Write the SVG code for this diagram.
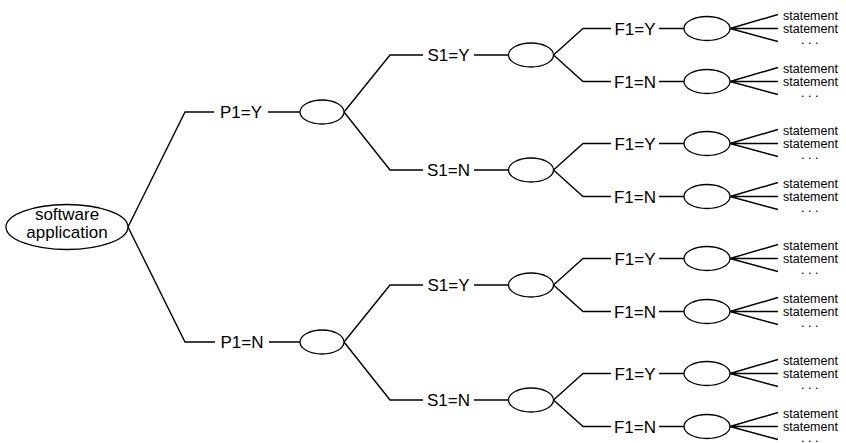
<svg xmlns="http://www.w3.org/2000/svg" width="846" height="443" viewBox="0 0 846 443">
<style>
.n{fill:#fff;stroke:#000;stroke-width:1.3}
.c{fill:none;stroke:#000;stroke-width:1.4}
.l{font-family:"Liberation Sans",Arial,sans-serif;font-size:17px;fill:#000;text-anchor:middle}
.s{font-family:"Liberation Sans",Arial,sans-serif;font-size:12.5px;fill:#000}
.d{font-family:"Liberation Sans",Arial,sans-serif;font-size:9px;font-weight:bold;fill:#000;text-anchor:middle;letter-spacing:4.5px}
</style>
<rect width="846" height="443" fill="#fff"/>
<g id="connectors">
<path class="c" d="M128,227 L185,112 L214,112 M268,112 L300,112 M128,227 L185,342 L215,342 M269,342 L300,342"/>
<path class="c" d="M344,112 L390,55 L423,55 M474,55 L509,55 M344,112 L390,170 L423,170 M474,170 L509,170"/>
<path class="c" d="M344,342 L390,285 L423,285 M474,285 L509,285 M344,342 L390,400 L423,400 M474,400 L509,400"/>
<path class="c" d="M553.5,55 L583,28.5 L611,28.5 M659,28.5 L684,28.5 M553.5,55 L583,81.5 L611,81.5 M659,81.5 L684,81.5"/>
<path class="c" d="M553.5,170 L583,143.5 L611,143.5 M659,143.5 L684,143.5 M553.5,170 L583,196.5 L611,196.5 M659,196.5 L684,196.5"/>
<path class="c" d="M553.5,285 L583,258.5 L611,258.5 M659,258.5 L684,258.5 M553.5,285 L583,311.5 L611,311.5 M659,311.5 L684,311.5"/>
<path class="c" d="M553.5,400 L583,373.5 L611,373.5 M659,373.5 L684,373.5 M553.5,400 L583,426.5 L611,426.5 M659,426.5 L684,426.5"/>
<path class="c" d="M730,28.5 L778,14.5 M730,28.5 L778,28.5 M730,28.5 L778,41.5 M730,81.5 L778,67.5 M730,81.5 L778,81.5 M730,81.5 L778,94.5 M730,143.5 L778,129.5 M730,143.5 L778,143.5 M730,143.5 L778,156.5 M730,196.5 L778,182.5 M730,196.5 L778,196.5 M730,196.5 L778,209.5 M730,258.5 L778,244.5 M730,258.5 L778,258.5 M730,258.5 L778,271.5 M730,311.5 L778,297.5 M730,311.5 L778,311.5 M730,311.5 L778,324.5 M730,373.5 L778,359.5 M730,373.5 L778,373.5 M730,373.5 L778,386.5 M730,426.5 L778,412.5 M730,426.5 L778,426.5 M730,426.5 L778,439.5"/>
<g id="edge-labels">
<text class="l" x="241" y="118">P1=Y</text>
<text class="l" x="242" y="348">P1=N</text>
<text class="l" x="448.5" y="61">S1=Y</text>
<text class="l" x="448.5" y="176">S1=N</text>
<text class="l" x="448.5" y="291">S1=Y</text>
<text class="l" x="448.5" y="406">S1=N</text>
<text class="l" x="635" y="34.5">F1=Y</text>
<text class="l" x="635" y="87.5">F1=N</text>
<text class="l" x="635" y="149.5">F1=Y</text>
<text class="l" x="635" y="202.5">F1=N</text>
<text class="l" x="635" y="264.5">F1=Y</text>
<text class="l" x="635" y="317.5">F1=N</text>
<text class="l" x="635" y="379.5">F1=Y</text>
<text class="l" x="635" y="432.5">F1=N</text>
</g>
<g id="outcomes">
<text class="s" x="783" y="19.5">statement</text><text class="s" x="783" y="33">statement</text><text class="d" x="812" y="43.5">...</text>
<text class="s" x="783" y="72.5">statement</text><text class="s" x="783" y="86">statement</text><text class="d" x="812" y="96.5">...</text>
<text class="s" x="783" y="134.5">statement</text><text class="s" x="783" y="148">statement</text><text class="d" x="812" y="158.5">...</text>
<text class="s" x="783" y="187.5">statement</text><text class="s" x="783" y="201">statement</text><text class="d" x="812" y="211.5">...</text>
<text class="s" x="783" y="249.5">statement</text><text class="s" x="783" y="263">statement</text><text class="d" x="812" y="273.5">...</text>
<text class="s" x="783" y="302.5">statement</text><text class="s" x="783" y="316">statement</text><text class="d" x="812" y="326.5">...</text>
<text class="s" x="783" y="364.5">statement</text><text class="s" x="783" y="378">statement</text><text class="d" x="812" y="388.5">...</text>
<text class="s" x="783" y="417.5">statement</text><text class="s" x="783" y="431">statement</text><text class="d" x="812" y="441.5">...</text>
</g>
</g>
<g id="root"><ellipse class="n" cx="67" cy="227" rx="61" ry="22.5"/><text class="l" x="67" y="220">software</text><text class="l" x="67" y="238">application</text></g>
<g id="p1y"><ellipse class="n" cx="322" cy="112" rx="22" ry="12"/></g>
<g id="p1n"><ellipse class="n" cx="322" cy="342" rx="22" ry="12"/></g>
<g id="p1y-s1y"><ellipse class="n" cx="531" cy="55" rx="22.5" ry="12"/></g>
<g id="p1y-s1n"><ellipse class="n" cx="531" cy="170" rx="22.5" ry="12"/></g>
<g id="p1n-s1y"><ellipse class="n" cx="531" cy="285" rx="22.5" ry="12"/></g>
<g id="p1n-s1n"><ellipse class="n" cx="531" cy="400" rx="22.5" ry="12"/></g>
<g id="leaf1"><ellipse class="n" cx="707" cy="28.5" rx="23" ry="12"/></g>
<g id="leaf2"><ellipse class="n" cx="707" cy="81.5" rx="23" ry="12"/></g>
<g id="leaf3"><ellipse class="n" cx="707" cy="143.5" rx="23" ry="12"/></g>
<g id="leaf4"><ellipse class="n" cx="707" cy="196.5" rx="23" ry="12"/></g>
<g id="leaf5"><ellipse class="n" cx="707" cy="258.5" rx="23" ry="12"/></g>
<g id="leaf6"><ellipse class="n" cx="707" cy="311.5" rx="23" ry="12"/></g>
<g id="leaf7"><ellipse class="n" cx="707" cy="373.5" rx="23" ry="12"/></g>
<g id="leaf8"><ellipse class="n" cx="707" cy="426.5" rx="23" ry="12"/></g>
</svg>
